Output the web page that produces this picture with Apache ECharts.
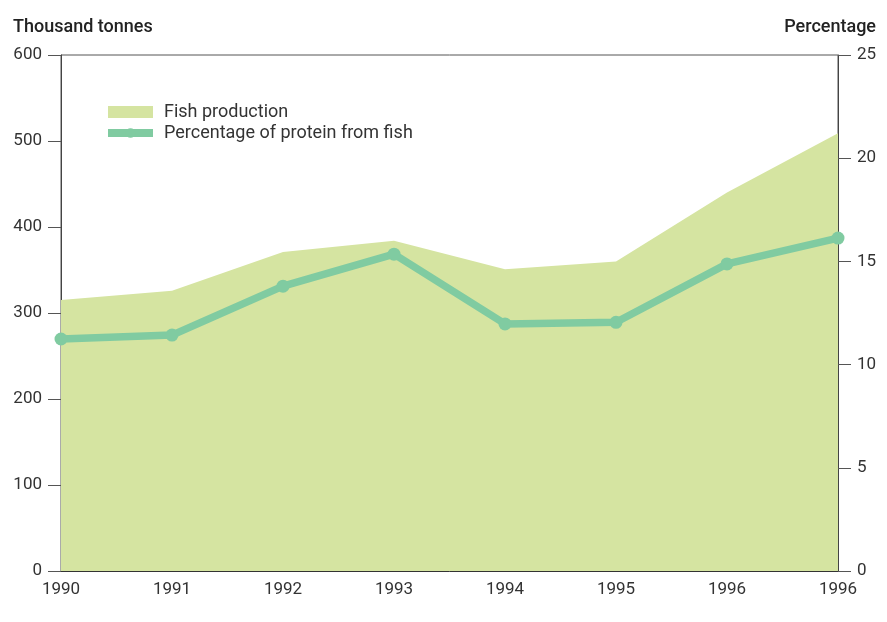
<!DOCTYPE html>
<html><head><meta charset="utf-8">
<script src="https://cdn.jsdelivr.net/npm/echarts@6/dist/echarts.min.js"></script>
<style>html,body{margin:0;padding:0;background:#fff}#c{width:887px;height:622px}</style>
</head><body><div id="c"></div>
<script>
const years = ['1990','1991','1992','1993','1994','1995','1996','1996'];
const fishProduction = [315, 326, 371, 384, 351, 360, 440, 509];
const proteinPct = [11.24, 11.43, 13.8, 15.35, 11.97, 12.05, 14.88, 16.13];
const leftTicks = {min: 0, max: 600, interval: 100};
const rightTicks = {min: 0, max: 25, interval: 5};

const FONT = 'Roboto';
const chart = echarts.init(document.getElementById('c'), null, {renderer: 'canvas'});
chart.setOption({
  animation: false,
  backgroundColor: '#fff',
  textStyle: {fontFamily: FONT},
  title: [
    {text: 'Thousand tonnes', left: 13, top: 18, padding: 0, textStyle: {fontFamily: FONT, fontSize: 18, fontWeight: 500, color: '#222'}},
    {text: 'Percentage', right: 11, top: 18, padding: 0, textStyle: {fontFamily: FONT, fontSize: 18, fontWeight: 500, color: '#222'}}
  ],
  legend: {
    orient: 'vertical', left: 104, top: 103, padding: 0, itemWidth: 45, itemHeight: 12, itemGap: 3,
    textStyle: {fontFamily: FONT, fontSize: 18, color: '#333', padding: [0,0,0,6]},
    data: [
      {name: 'Fish production', icon: 'rect'},
      {name: 'Percentage of protein from fish', lineStyle: {width: 8}, itemStyle: {color: '#80cba1'}}
    ]
  },
  grid: {left: 61, right: 49, top: 55, bottom: 51, show: true, borderColor: '#555', borderWidth: 1, backgroundColor: 'transparent'},
  xAxis: {
    type: 'category', data: years, boundaryGap: false,
    axisLine: {lineStyle: {color: '#333', width: 1}},
    axisTick: {show: false},
    axisLabel: {fontFamily: FONT, fontSize: 17, color: '#333', margin: 10, interval: 0},
    splitLine: {show: false}
  },
  yAxis: [
    {type: 'value', min: leftTicks.min, max: leftTicks.max, interval: leftTicks.interval, position: 'left',
     axisLine: {show: true, lineStyle: {color: '#444'}}, axisTick: {show: true, length: 13, lineStyle: {color: '#555'}},
     axisLabel: {fontFamily: FONT, fontSize: 17, color: '#333', margin: 19}, splitLine: {show: false}},
    {type: 'value', min: rightTicks.min, max: rightTicks.max, interval: rightTicks.interval, position: 'right',
     axisLine: {show: true, lineStyle: {color: '#444'}}, axisTick: {show: true, length: 13, lineStyle: {color: '#555'}},
     axisLabel: {fontFamily: FONT, fontSize: 17, color: '#333', margin: 19}, splitLine: {show: false}}
  ],
  series: [
    {name: 'Fish production', type: 'line', yAxisIndex: 0, data: fishProduction,
     showSymbol: false, symbol: 'none', lineStyle: {width: 0, color: '#d5e4a1'},
     itemStyle: {color: '#d5e4a1'}, areaStyle: {color: '#d5e4a1', opacity: 1}, z: 1},
    {name: 'Percentage of protein from fish', type: 'line', yAxisIndex: 1, data: proteinPct,
     symbol: 'circle', symbolSize: 13, showSymbol: true,
     lineStyle: {width: 7.5, color: '#80cba1'}, itemStyle: {color: '#80cba1'}, z: 3}
  ]
});
</script></body></html>
